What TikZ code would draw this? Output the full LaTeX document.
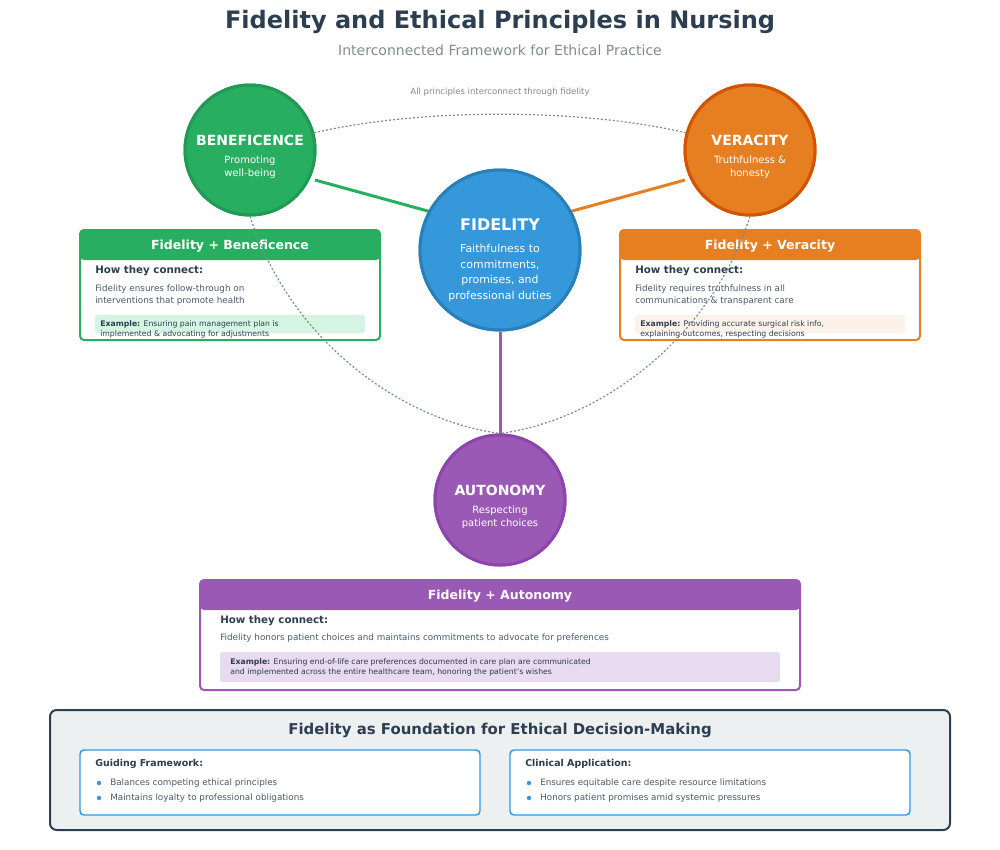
\documentclass[tikz,border=0pt]{standalone}
\usepackage{fontspec}
\setmainfont{DejaVu Sans}
\usetikzlibrary{positioning}
\definecolor{ink}{HTML}{2C3E50}
\definecolor{greyt}{HTML}{7F8C8D}
\definecolor{bgreen}{HTML}{27AE60}
\definecolor{dgreen}{HTML}{229954}
\definecolor{borange}{HTML}{E67E22}
\definecolor{dorange}{HTML}{D35400}
\definecolor{bblue}{HTML}{3498DB}
\definecolor{dblue}{HTML}{2980B9}
\definecolor{bpurple}{HTML}{9B59B6}
\definecolor{dpurple}{HTML}{8E44AD}
\definecolor{lgreen}{HTML}{D5F5E3}
\definecolor{lorange}{HTML}{FDF2E9}
\definecolor{lpurple}{HTML}{E8DAEF}
\definecolor{panel}{HTML}{ECF0F1}
\newcommand{\fs}[1]{\fontsize{#1}{\the\dimexpr #1pt*13/10\relax}\selectfont}
\tikzset{
  principle/.style={circle, minimum size=97.5pt, line width=2.25pt, text=white, align=center, inner sep=0pt, font=\fs{7.5}},
  label text/.style={text=white, align=center, inner sep=0pt, font=\fs{7.5}},
  link/.style={line width=2.25pt},
  interlink/.style={greyt, line width=0.9pt, dash pattern=on 1.5pt off 1.5pt},
  head/.style={font=\bfseries\fs{7.7}, text=ink, anchor=west, inner sep=0pt},
  body/.style={font=\fs{6.6}, text=ink!85, anchor=west, align=left, inner sep=0pt},
  eg/.style={font=\fs{5.8}, text=ink, anchor=west, align=left, inner sep=0pt},
}
\begin{document}
\begin{tikzpicture}[x=0.75pt,y=-0.75pt]
	\useasboundingbox (0,0) rectangle (1000,850);

	% titles
	\node[font=\bfseries\fs{18}, text=ink] (title) at (500,22) {Fidelity and Ethical Principles in Nursing};
	\node[font=\fs{10.5}, text=greyt] (subtitle) at (500,50) {Interconnected Framework for Ethical Practice};
	\node[font=\fs{6.4}, text=greyt] (note) at (500,92) {All principles interconnect through fidelity};

	% pair boxes
	\draw[bgreen, line width=1.5pt, fill=white, rounded corners=3pt] (80,230) rectangle (380,340);
	\fill[bgreen, rounded corners=3pt] (80,230) rectangle (380,260);
	\node[font=\bfseries\fs{9.4}, text=white] (bbox) at (230,246) {Fidelity + Beneficence};
	\node[head] at (95,271) {How they connect:};
	\node[body] at (95,295) {Fidelity ensures follow-through on\\interventions that promote health};
	\fill[lgreen, rounded corners=2pt] (95,315) rectangle (365,333);
	\node[eg] at (100,329) {\textbf{Example:} Ensuring pain management plan is\\implemented \& advocating for adjustments};

	\draw[borange, line width=1.5pt, fill=white, rounded corners=3pt] (620,230) rectangle (920,340);
	\fill[borange, rounded corners=3pt] (620,230) rectangle (920,260);
	\node[font=\bfseries\fs{9.4}, text=white] (vbox) at (770,246) {Fidelity + Veracity};
	\node[head] at (635,271) {How they connect:};
	\node[body] at (635,295) {Fidelity requires truthfulness in all\\communications \& transparent care};
	\fill[lorange, rounded corners=2pt] (635,315) rectangle (905,333);
	\node[eg] at (640,329) {\textbf{Example:} Providing accurate surgical risk info,\\explaining outcomes, respecting decisions};

	\draw[bpurple, line width=1.5pt, fill=white, rounded corners=3pt] (200,580) rectangle (800,690);
	\fill[bpurple, rounded corners=3pt] (200,580) rectangle (800,610);
	\node[font=\bfseries\fs{9.4}, text=white] (abox) at (500,596) {Fidelity + Autonomy};
	\node[head] at (220,621) {How they connect:};
	\node[body] at (220,638) {Fidelity honors patient choices and maintains commitments to advocate for preferences};
	\fill[lpurple, rounded corners=2pt] (220,652) rectangle (780,682);
	\node[eg] at (230,667) {\textbf{Example:} Ensuring end-of-life care preferences documented in care plan are communicated\\and implemented across the entire healthcare team, honoring the patient's wishes};

	% principles
	\node[principle, fill=bgreen, draw=dgreen] (ben) at (250,150) {};
	\node[principle, fill=borange, draw=dorange] (ver) at (750,150) {};
	\node[principle, fill=bpurple, draw=dpurple] (aut) at (500,500) {};
	\node[principle, fill=bblue, draw=dblue, minimum size=120pt] (fid) at (500,250) {};

	% dashed interconnections
	\draw[interlink] (ben.15) .. controls (420,108) and (580,108) .. (ver.165);
	\draw[interlink] (ben.south) .. controls (290,340) and (400,420) .. (aut.north);
	\draw[interlink] (ver.south) .. controls (710,340) and (600,420) .. (aut.north);

	% links to fidelity
	\draw[link, bgreen] (315,180) -- (435,213);
	\draw[link, borange] (685,180) -- (565,213);
	\draw[link, bpurple] (fid) -- (aut);

	% redraw circles over links
	\node[principle, fill=bgreen, draw=dgreen] at (ben) {};
	\node[principle, fill=borange, draw=dorange] at (ver) {};
	\node[principle, fill=bpurple, draw=dpurple] at (aut) {};
	\node[principle, fill=bblue, draw=dblue, minimum size=120pt] at (fid) {};
	\node[label text, yshift=-5pt] (bent) at (ben) {{\bfseries\fs{10.5}BENEFICENCE}\\[4pt]Promoting\\well-being};
	\node[label text, yshift=-5pt] (vert) at (ver) {{\bfseries\fs{10.5}VERACITY}\\[4pt]Truthfulness \&\\honesty};
	\node[label text, yshift=-5pt] (autt) at (aut) {{\bfseries\fs{10.5}AUTONOMY}\\[4pt]Respecting\\patient choices};
	\node[label text, font=\fs{8.2}, yshift=-7.5pt] (fidt) at (fid) {{\bfseries\fs{12}FIDELITY}\\[6pt]Faithfulness to\\[1pt]commitments,\\[1pt]promises, and\\[1pt]professional duties};

	% foundation panel
	\draw[ink, line width=1.5pt, fill=panel, rounded corners=5pt] (50,710) rectangle (950,830);
	\node[font=\bfseries\fs{11.2}, text=ink] (found) at (500,730) {Fidelity as Foundation for Ethical Decision-Making};
	\draw[bblue, line width=1.1pt, fill=white, rounded corners=3pt] (80,750) rectangle (480,815);
	\draw[bblue, line width=1.1pt, fill=white, rounded corners=3pt] (510,750) rectangle (910,815);
	\node[head, font=\bfseries\fs{7.1}] at (95,764) {Guiding Framework:};
	\node[head, font=\bfseries\fs{7.1}] at (525,764) {Clinical Application:};
	\foreach \y/\t in {783/Balances competing ethical principles, 798/Maintains loyalty to professional obligations}{
		\fill[bblue] (99,\y) circle (2.2);
		\node[body] at (110,\y) {\t};
	}
	\foreach \y/\t in {783/Ensures equitable care despite resource limitations, 798/Honors patient promises amid systemic pressures}{
		\fill[bblue] (529,\y) circle (2.2);
		\node[body] at (540,\y) {\t};
	}
\end{tikzpicture}
\end{document}
